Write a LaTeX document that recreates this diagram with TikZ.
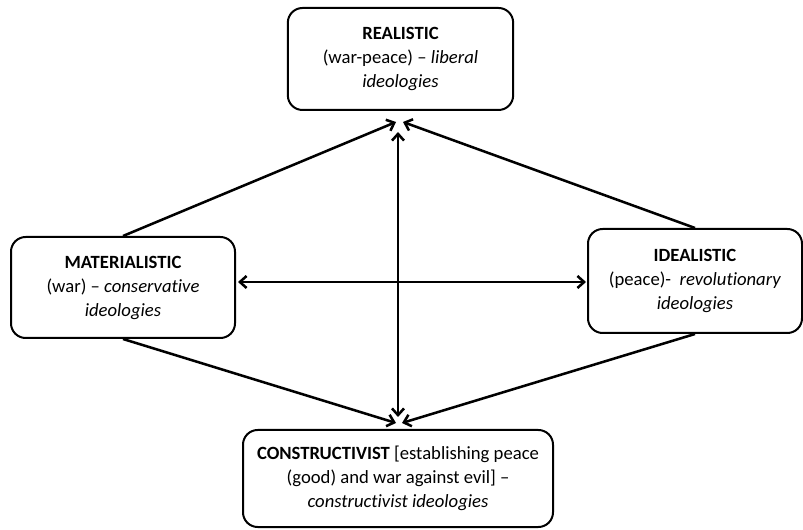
\documentclass[tikz,border=0pt]{standalone}
\usepackage{fontspec}
\setmainfont{Carlito}[Ligatures=NoCommon]
\usetikzlibrary{arrows.meta,positioning,calc}

\begin{document}
\begin{tikzpicture}[x=0.75pt,y=-0.75pt,
    view/.style={draw, line width=1.5pt, rounded corners=11pt, align=center,
      font=\fontsize{14}{18}\selectfont, inner sep=2pt},
    link/.style={line width=1.9pt, -{Straight Barb[length=5pt,width=9pt]}},
    twoway/.style={line width=1.9pt,
      {Straight Barb[length=5pt,width=9pt]}-{Straight Barb[length=5pt,width=9pt]}}]
  \useasboundingbox (0,0) rectangle (803,530);
  % the four views
  \node[view, minimum width=169pt, minimum height=76.5pt] (real) at (400.5,59)
    {\textbf{REALISTIC}\\(war-peace) -- \textit{liberal}\\\textit{ideologies}};
  \node[view, minimum width=168pt, minimum height=75.75pt] (mat) at (123,287.5)
    {\textbf{MATERIALISTIC}\\(war) -- \textit{conservative}\\\textit{ideologies}};
  \node[view, minimum width=160.5pt, minimum height=78pt] (ideal) at (695,281)
    {\textbf{IDEALISTIC}\\(peace)-~ \textit{revolutionary}\\\textit{ideologies}};
  \node[view, minimum width=232.5pt, minimum height=72.75pt] (cons) at (398,478.5)
    {\textbf{CONSTRUCTIVIST} [establishing peace\\(good) and war against evil] --\\\textit{constructivist ideologies}};
  % free ends of the arrows, just off the top and bottom boxes
  \coordinate (realL) at (396,122);
  \coordinate (realR) at (403,122);
  \coordinate (realM) at (398,132);
  \coordinate (consL) at (396,423);
  \coordinate (consR) at (402,423);
  \coordinate (consM) at (398,417);
  \coordinate (midL) at (238,282);
  \coordinate (midR) at (586,282);
  % side boxes point up and down
  \draw[link] (mat.north) -- (realL);
  \draw[link] (ideal.north) -- (realR);
  \draw[link] (mat.south) -- (consL);
  \draw[link] (ideal.south) -- (consR);
  % the cross in the middle
  \draw[twoway] (realM) -- (consM);
  \draw[twoway] (midL) -- (midR);
\end{tikzpicture}
\end{document}
